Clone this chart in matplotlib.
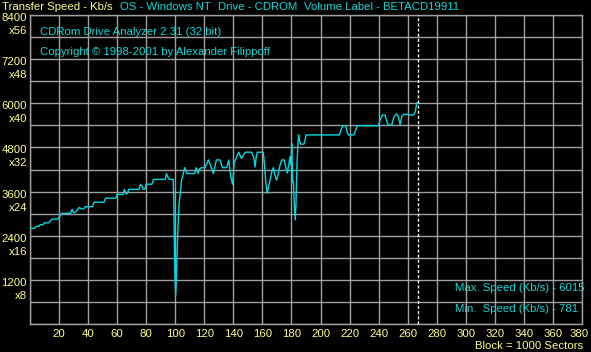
import matplotlib
matplotlib.use("Agg")
import matplotlib.pyplot as plt
from matplotlib.transforms import offset_copy

# ---------------- data ----------------
blocks = [0, 3, 4, 6, 7, 9, 10, 13, 14, 15, 19, 21, 22, 28, 29, 30, 31, 34, 35, 37,
          38, 43, 44, 51, 52, 59, 60, 64, 65, 66, 67, 68, 75, 76, 77, 78, 79, 80, 84, 85,
          93, 94, 95, 96, 98.5, 99, 99.3, 99.8, 100.3, 100.8, 101.3, 102, 102.7, 103.5, 104.3, 105,
          106.5, 108, 113.5, 114.3, 115.7, 116.5, 118, 120.5, 122.8, 124.4, 126.2, 128.3, 130.8,
          132.5, 135.4, 136.8, 137.7, 138.5, 139.5, 140.5, 142, 143.7, 145.5, 148.2, 152.6,
          154.2, 154.9, 155.8, 156.5, 160.6, 161.5, 162.2, 163.3, 164.3, 165.5, 166.5, 167.5,
          168.5, 169.8, 171, 172, 173.3, 175, 176, 177.2, 178, 179, 179.6, 180.2, 180.8, 181.3,
          182, 182.6, 183.1, 183.7, 184.3, 184.9, 185.5, 186.3, 188.6, 189.3, 190.1, 213, 214,
          215.5, 217.3, 218.5, 219.3, 223, 224.2, 225.3, 239.8, 240.9, 242.5, 244.4, 246, 247,
          249, 250.6, 252.4, 253.6, 254.8, 255.9, 257.1, 260.6, 261.7, 264, 265.2, 266.3]
speed = [2600, 2600, 2650, 2650, 2700, 2700, 2750, 2750, 2800, 2850, 2850, 2960, 3010, 3010, 3120, 3030, 3030, 3170, 3130, 3130,
         3190, 3190, 3310, 3310, 3420, 3420, 3520, 3520, 3660, 3540, 3540, 3660, 3660, 3800, 3750, 3660, 3660, 3800, 3800, 3930,
         3930, 4090, 3980, 3930, 3930, 3400, 2370, 1290, 781, 1290, 2010, 2780, 3320, 3560, 3910, 4000,
         4250, 4090, 4090, 4250, 4090, 4200, 4250, 4250, 4460, 4300, 4090, 4460, 4460,
         4250, 4250, 4460, 4150, 3950, 3800, 4370, 4520, 4670, 4500, 4670, 4670,
         4500, 4270, 4550, 4670, 4670, 4300, 3900, 3550, 3750, 3950, 4150, 4250,
         4050, 3910, 4100, 4300, 4460, 4460, 4270, 4100, 4300, 4550, 4320, 4910, 3870, 3870,
         3190, 2830, 3280, 4230, 4780, 5140, 5000, 4890, 4890, 5000, 5140, 5140, 5270,
         5390, 5390, 5200, 5140, 5140, 5270, 5390, 5390, 5530, 5680, 5680, 5460, 5410,
         5410, 5640, 5710, 5640, 5410, 5640, 5700, 5700, 5680, 5680, 5770, 6015]

x_ticks = list(range(20, 381, 20))
y_label_values = [8400, 7200, 6000, 4800, 3600, 2400, 1200]
y_multipliers = ["x56", "x48", "x40", "x32", "x24", "x16", "x8"]
end_block = 267.3
max_speed = 6015
min_speed = 781

# ---------------- style ----------------
BG = "#000000"
GRID = "#a0a0a0"
LINE = "#00d8e0"
YELLOW = "#ffff88"
CYAN = "#10d8d8"
FONT = ["Liberation Sans", "DejaVu Sans"]
FS = 8.2

W, H = 591, 352
fig = plt.figure(figsize=(W / 100, H / 100), dpi=100, facecolor=BG)
L, R, T, B = 30, 582, 15, 324
ax = fig.add_axes([L / W, (H - B) / H, (R - L) / W, (B - T) / H])
ax.set_facecolor(BG)
ax.set_xlim(0, 380)
ax.set_ylim(0, 8400)
ax.set_xticks(range(0, 381, 20))
ax.set_yticks(range(0, 8401, 600))
ax.tick_params(length=0, labelbottom=False, labelleft=False)
ax.grid(True, color=GRID, linewidth=1.0)
for s in ax.spines.values():
    s.set_color(GRID)
    s.set_linewidth(1.0)

ax.plot(blocks, speed, color=LINE, linewidth=1.0, zorder=3)
ax.axvline(end_block, color="white", linewidth=1.0, dashes=(2.2, 1.5), zorder=4)

# y labels (two lines: value and multiplier)
ytr = ax.get_yaxis_transform()
for v, m in zip(y_label_values, y_multipliers):
    t1 = offset_copy(ytr, fig=fig, x=-3, y=-3, units="dots")
    t2 = offset_copy(ytr, fig=fig, x=-3, y=-16, units="dots")
    ax.text(0, v, str(v), transform=t1, ha="right", va="center",
            color=YELLOW, fontsize=FS, family=FONT, clip_on=False)
    ax.text(0, v, m, transform=t2, ha="right", va="center",
            color=YELLOW, fontsize=FS, family=FONT, clip_on=False)

# x labels
for xv in x_ticks:
    dx = -3 if xv == x_ticks[-1] else 0
    xtr = offset_copy(ax.get_xaxis_transform(), fig=fig, x=dx, y=-10, units="dots")
    ax.text(xv, 0, str(xv), transform=xtr, ha="center", va="center",
            color=YELLOW, fontsize=FS, family=FONT, clip_on=False)

def ftext(px, py, s, color, ha="left"):
    fig.text(px / W, 1 - py / H, s, color=color, fontsize=FS, family=FONT,
             ha=ha, va="center")

ftext(583, 346, "Block = 1000 Sectors", YELLOW, ha="right")
ftext(2, 7.5, "Transfer Speed - Kb/s", YELLOW)
ftext(120, 7.5, "OS - Windows NT", CYAN)
ftext(218, 7.5, "Drive - CDROM", CYAN)
ftext(304, 7.5, "Volume Label - BETACD19911", CYAN)
ftext(40, 32, "CDRom Drive Analyzer 2.31 (32 bit)", CYAN)
ftext(40, 52, "Copyright \u00a9 1998-2001 by Alexander Filippoff", CYAN)
ftext(455, 288, f"Max. Speed (Kb/s) - {max_speed}", CYAN)
ftext(455, 309, f"Min.  Speed (Kb/s) - {min_speed}", CYAN)

fig.savefig("out.png", dpi=100, facecolor=BG)
